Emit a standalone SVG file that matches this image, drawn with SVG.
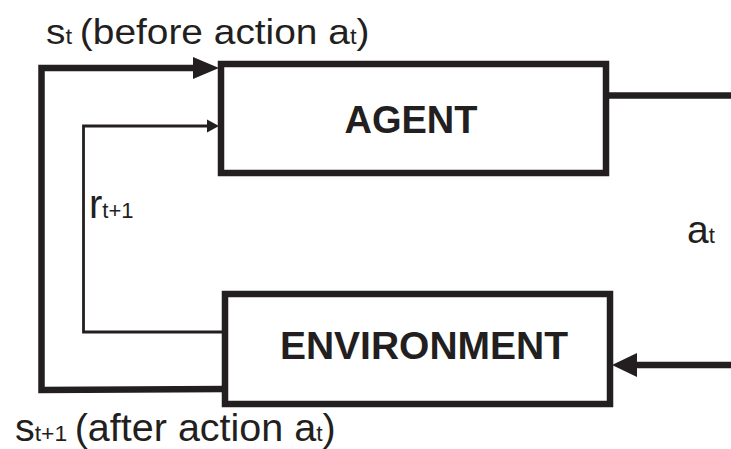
<svg xmlns="http://www.w3.org/2000/svg" width="731" height="449" viewBox="0 0 731 449">
<style>
.box{fill:#fff;stroke:#231f20;stroke-width:6.5}
.thick{fill:none;stroke:#231f20;stroke-width:6.5}
.thin{fill:none;stroke:#231f20;stroke-width:2.8}
.head{fill:#231f20}
.lbl{font-family:"Liberation Sans",Arial,sans-serif;fill:#231f20}
.bold{font-family:"Liberation Sans",Arial,sans-serif;font-weight:bold;fill:#231f20;text-anchor:middle}
</style>
<rect width="731" height="449" fill="#fff"/>
<g id="connectors">
  <polyline class="thick" points="225,389 41.5,390 41.5,68 196,68"/>
  <polygon class="head" points="219,68 193,57 193,79"/>
  <polyline class="thin" points="225,332 83.5,332 83.5,126 210,126"/>
  <polygon class="head" points="219,126 207,119.5 207,132.5"/>
  <line class="thick" x1="606" y1="95.5" x2="731" y2="95.5"/>
  <line class="thick" x1="731" y1="365" x2="634" y2="365"/>
  <polygon class="head" points="612,365 637,353 637,377"/>
</g>
<g id="agent">
  <rect class="box" x="221" y="64" width="385" height="109"/>
  <text class="bold" x="411" y="133" font-size="38">AGENT</text>
</g>
<g id="environment">
  <rect class="box" x="225" y="294" width="385" height="110"/>
  <text class="bold" x="424" y="359" font-size="39">ENVIRONMENT</text>
</g>
<g id="labels">
  <text class="lbl" transform="translate(46,44) scale(1.08,1)" font-size="36">s<tspan font-size="22">t</tspan><tspan font-size="26"> </tspan>(before action a<tspan font-size="22">t</tspan>)</text>
  <text class="lbl" transform="translate(15,441) scale(1.04,1)" font-size="38">s<tspan font-size="22">t+1</tspan><tspan font-size="26"> </tspan>(after action a<tspan font-size="22">t</tspan>)</text>
  <text class="lbl" x="89" y="218" font-size="40">r<tspan font-size="22">t+1</tspan></text>
  <text class="lbl" x="687" y="243" font-size="39">a<tspan font-size="22">t</tspan></text>
</g>
</svg>
